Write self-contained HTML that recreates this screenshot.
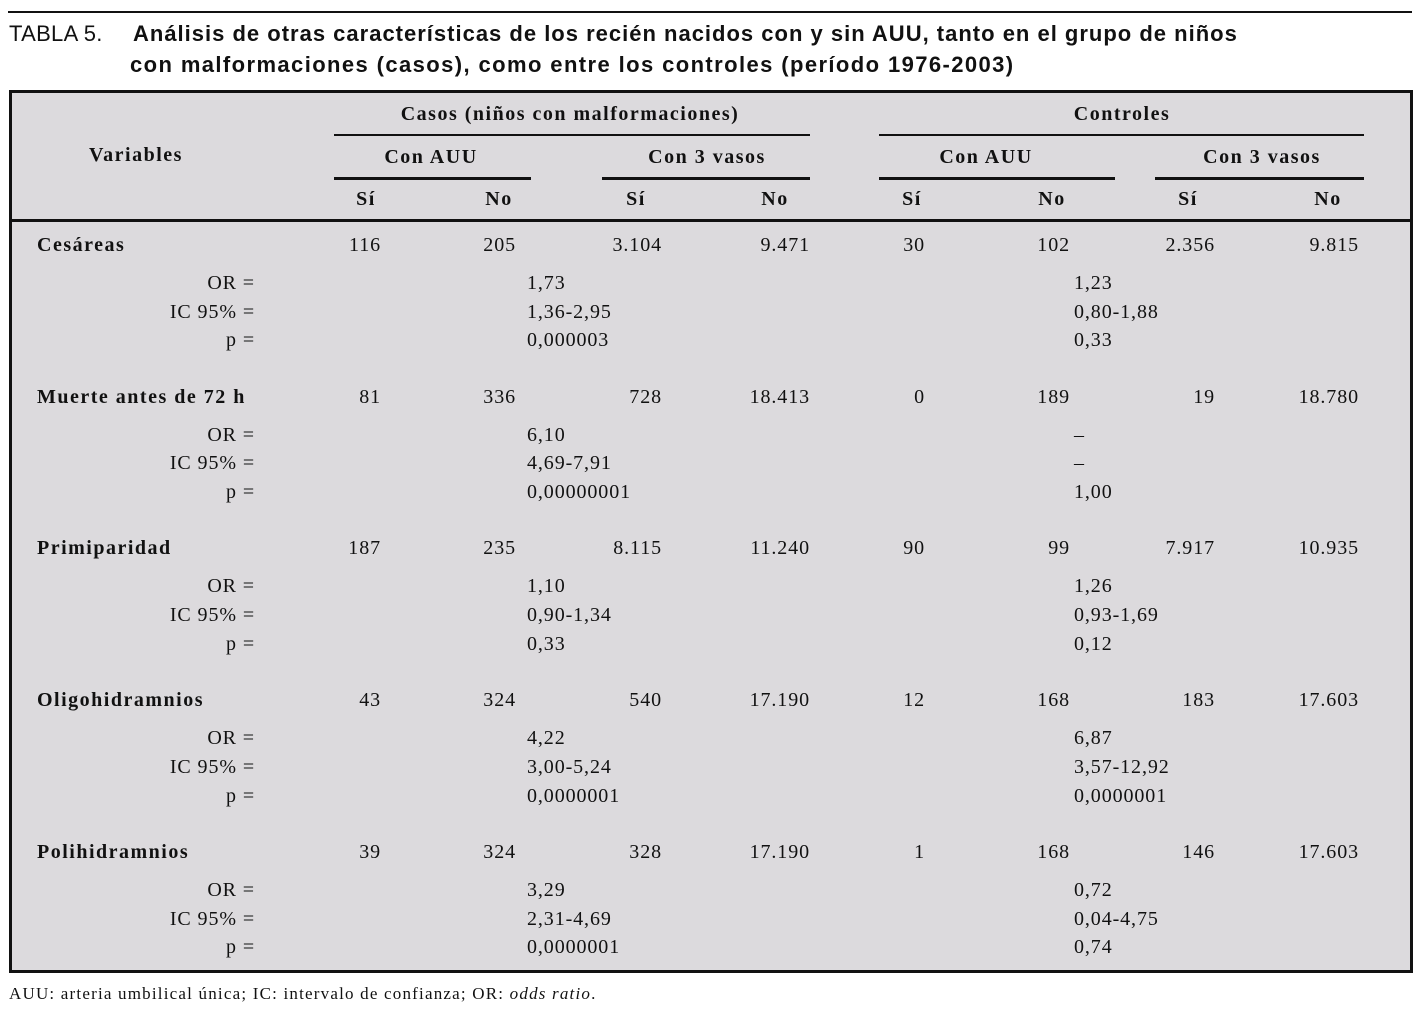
<!DOCTYPE html>
<html><head><meta charset="utf-8">
<style>
body{margin:0;width:1420px;height:1010px;background:#fff;position:relative;overflow:hidden;font-family:"Liberation Serif",serif;color:#111}
.a{position:absolute;white-space:nowrap;line-height:1}
.t{font-family:"Liberation Sans",sans-serif;font-size:22px;letter-spacing:1px}
.box{position:absolute;left:9px;top:90px;width:1398px;height:877px;border:3px solid #111;background:#dcdadd}
.hl{position:absolute;height:2px;background:#111}
.v{font-size:20px;letter-spacing:0.9px}
.b{font-weight:bold;letter-spacing:1.5px}
</style></head>
<body>
<div class="hl" style="left:8px;top:11px;width:1404px;height:2px"></div>
<div class="a t" style="left:9px;top:23px;letter-spacing:0.3px">TABLA 5.</div>
<div class="a t" style="left:133px;top:23px"><b>Análisis de otras características de los recién nacidos con y sin AUU, tanto en el grupo de niños</b></div>
<div class="a t" style="left:130px;top:54px;letter-spacing:1.4px"><b>con malformaciones (casos), como entre los controles (período 1976-2003)</b></div>
<div class="box" id="box"></div>
<div class="a" style="left:9px;top:985px;font-size:17px;letter-spacing:1.2px">AUU: arteria umbilical única; IC: intervalo de confianza; OR: <i>odds ratio</i>.</div>
<script>
const variables=["Cesáreas","Muerte antes de 72 h","Primiparidad","Oligohidramnios","Polihidramnios"];
const counts=[["116","205","3.104","9.471","30","102","2.356","9.815"],["81","336","728","18.413","0","189","19","18.780"],["187","235","8.115","11.240","90","99","7.917","10.935"],["43","324","540","17.190","12","168","183","17.603"],["39","324","328","17.190","1","168","146","17.603"]];
const casosStats=[["1,73","1,36-2,95","0,000003"],["6,10","4,69-7,91","0,00000001"],["1,10","0,90-1,34","0,33"],["4,22","3,00-5,24","0,0000001"],["3,29","2,31-4,69","0,0000001"]];
const controlStats=[["1,23","0,80-1,88","0,33"],["–","–","1,00"],["1,26","0,93-1,69","0,12"],["6,87","3,57-12,92","0,0000001"],["0,72","0,04-4,75","0,74"]];
const statLabels=["OR =","IC 95% =","p ="];
const subHeads=["Sí","No","Sí","No","Sí","No","Sí","No"];
const colCenters=[366,499,636,775,912,1052,1188,1328];
const colRights=[381,516,662,810,925,1070,1215,1359];
function add(html,x,y,cls,name,align){
  const d=document.createElement('div');
  d.className='a v '+(cls||'');
  d.innerHTML=html;
  
  
  if(align==='c'){d.style.left=(x-200)+'px';d.style.width='400px';d.style.textAlign='center';}
  else if(align==='r'){d.style.left=(x-300)+'px';d.style.width='300px';d.style.textAlign='right';}
  else d.style.left=x+'px';
  d.style.top=(y-10)+'px';
  document.body.appendChild(d);return d;
}
function line(x1,x2,y,h,name){
  const d=document.createElement('div');d.className='hl';
  d.style.left=x1+'px';d.style.width=(x2-x1)+'px';d.style.top=y+'px';d.style.height=(h||2)+'px';
  
  
  document.body.appendChild(d);
}
add('Variables',136,155,'b','variables-header','c');
add('Casos (niños con malformaciones)',570,114,'b','casos-header','c');
add('Controles',1122,114,'b','controles-header','c');
line(334,810,134,2,'casos-rule');line(879,1364,134,2,'controles-rule');
add('Con AUU',431,157,'b','casos-con-auu-header','c');
add('Con 3 vasos',707,157,'b','casos-3-vasos-header','c');
add('Con AUU',986,157,'b','controles-con-auu-header','c');
add('Con 3 vasos',1262,157,'b','controles-3-vasos-header','c');
line(334,531,177,3,'rule');line(602,810,177,3,'rule');line(879,1115,177,3,'rule');line(1155,1364,177,3,'rule');
subHeads.forEach((s,i)=>add(s,colCenters[i],199,'b','subheader-'+i,'c'));
line(10,1410,219,3,'header-bottom-rule');
variables.forEach((v,r)=>{
  const y=245+r*151.7;
  add(v,37,y,'b','variable-'+r);
  counts[r].forEach((c,i)=>add(c,colRights[i],y,'','count-'+r+'-'+i,'r'));
  statLabels.forEach((l,k)=>{
    const yy=y+38+k*28.7;
    add(l,255,yy,'','stat-label-'+r+'-'+k,'r');
    add(casosStats[r][k],527,yy,'','casos-stat-'+r+'-'+k);
    add(controlStats[r][k],1074,yy,'','control-stat-'+r+'-'+k);
  });
});
</script>
</body></html>
